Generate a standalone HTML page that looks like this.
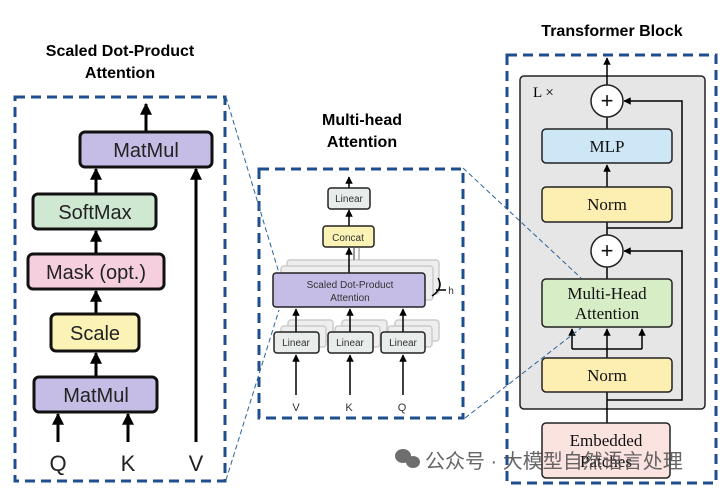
<!DOCTYPE html>
<html><head><meta charset="utf-8"><style>
html,body{margin:0;padding:0;background:#fff;}
svg{display:block;}
text{font-family:"Liberation Sans",sans-serif;}
.serif{font-family:"Liberation Serif",serif;}
</style></head><body>
<svg width="720" height="488" viewBox="0 0 720 488" xmlns="http://www.w3.org/2000/svg">
<defs>
<marker id="a" viewBox="0 0 10 10" refX="9" refY="5" markerWidth="4" markerHeight="4" orient="auto"><path d="M0,0L10,5L0,10z" fill="#000"/></marker>
<marker id="s" viewBox="0 0 10 10" refX="9" refY="5" markerWidth="5" markerHeight="5" orient="auto"><path d="M0,0L10,5L0,10z" fill="#000"/></marker>
</defs>

<!-- LEFT -->
<text x="120" y="56" font-size="16" font-weight="bold" text-anchor="middle">Scaled Dot-Product</text>
<text x="120" y="78" font-size="16" font-weight="bold" text-anchor="middle">Attention</text>
<rect x="15" y="97" width="210" height="384" fill="none" stroke="#1f4e8c" stroke-width="3" stroke-dasharray="10,6"/>
<g stroke="#000" stroke-width="3" fill="none">
<line x1="146" y1="132" x2="146" y2="104" marker-end="url(#a)"/>
<line x1="96" y1="194" x2="96" y2="169" marker-end="url(#a)"/>
<line x1="96" y1="254" x2="96" y2="231" marker-end="url(#a)"/>
<line x1="96" y1="314" x2="96" y2="291" marker-end="url(#a)"/>
<line x1="96" y1="377" x2="96" y2="353" marker-end="url(#a)"/>
<line x1="58" y1="442" x2="58" y2="414" marker-end="url(#a)"/>
<line x1="128" y1="442" x2="128" y2="414" marker-end="url(#a)"/>
<line x1="196" y1="442" x2="196" y2="169" marker-end="url(#a)"/>
</g>
<g stroke="#111" stroke-width="3">
<rect x="80" y="132" width="132" height="35" rx="5" fill="#c6bde6"/>
<rect x="33" y="194" width="123" height="35" rx="5" fill="#cfe8d2"/>
<rect x="28" y="254" width="136" height="35" rx="5" fill="#f6cfdf"/>
<rect x="51" y="314" width="88" height="37" rx="5" fill="#fbf3b5"/>
<rect x="34" y="377" width="123" height="35" rx="5" fill="#c6bde6"/>
</g>
<g font-size="20" fill="#222" text-anchor="middle">
<text x="146" y="157">MatMul</text>
<text x="95" y="219">SoftMax</text>
<text x="96" y="279">Mask (opt.)</text>
<text x="95" y="340">Scale</text>
<text x="96" y="402">MatMul</text>
<text x="58" y="471" font-size="22">Q</text>
<text x="128" y="471" font-size="22">K</text>
<text x="196" y="471" font-size="22">V</text>
</g>

<!-- MIDDLE -->
<text x="362" y="125" font-size="16" font-weight="bold" text-anchor="middle">Multi-head</text>
<text x="362" y="147" font-size="16" font-weight="bold" text-anchor="middle">Attention</text>
<rect x="259" y="169" width="204" height="249" fill="none" stroke="#1f4e8c" stroke-width="3" stroke-dasharray="10,6"/>
<g fill="#eeeeee" stroke="#ccc" stroke-width="1.5">
<rect x="287" y="260" width="152" height="34" rx="3"/>
<rect x="281" y="266" width="152" height="34" rx="3"/>
<rect x="288" y="320" width="45" height="21" rx="3"/><rect x="342" y="320" width="45" height="21" rx="3"/><rect x="395" y="320" width="44" height="21" rx="3"/>
<rect x="281" y="326" width="45" height="21" rx="3"/><rect x="335" y="326" width="45" height="21" rx="3"/><rect x="388" y="326" width="44" height="21" rx="3"/>
</g>
<g stroke="#000" stroke-width="1.5" fill="none">
<line x1="349" y1="188" x2="349" y2="177" marker-end="url(#s)"/>
<line x1="349" y1="226" x2="349" y2="210" marker-end="url(#s)"/>
<line x1="349" y1="273" x2="349" y2="248" marker-end="url(#s)"/>
<line x1="354" y1="260" x2="354" y2="248" stroke="#777"/>
<line x1="359" y1="260" x2="359" y2="248" stroke="#aaa"/>
<line x1="296" y1="332" x2="296" y2="309" marker-end="url(#s)"/>
<line x1="350" y1="332" x2="350" y2="309" marker-end="url(#s)"/>
<line x1="403" y1="332" x2="403" y2="309" marker-end="url(#s)"/>
<line x1="296" y1="395" x2="296" y2="355" marker-end="url(#s)"/>
<line x1="350" y1="395" x2="350" y2="355" marker-end="url(#s)"/>
<line x1="403" y1="395" x2="403" y2="355" marker-end="url(#s)"/>
<path d="M438,278 Q444,288 432,296 M436,290 L446,290"/>
</g>
<g stroke="#222" stroke-width="1.5">
<rect x="328" y="188" width="42" height="21" rx="3" fill="#e8eceb"/>
<rect x="323" y="226" width="51" height="21" rx="3" fill="#fbf3b5"/>
<rect x="273" y="273" width="152" height="34" rx="3" fill="#c6bde6"/>
<rect x="274" y="332" width="45" height="21" rx="3" fill="#e8eceb"/>
<rect x="328" y="332" width="45" height="21" rx="3" fill="#e8eceb"/>
<rect x="381" y="332" width="44" height="21" rx="3" fill="#e8eceb"/>
</g>
<g font-size="10" fill="#333" text-anchor="middle">
<text x="349" y="202">Linear</text>
<text x="348" y="241">Concat</text>
<text x="350" y="288">Scaled Dot-Product</text>
<text x="350" y="301">Attention</text>
<text x="296" y="346">Linear</text>
<text x="350" y="346">Linear</text>
<text x="403" y="346">Linear</text>
<text x="451" y="294">h</text>
<text x="296" y="411" font-size="11">V</text>
<text x="349" y="411" font-size="11">K</text>
<text x="402" y="411" font-size="11">Q</text>
</g>

<!-- RIGHT -->
<text x="612" y="36" font-size="16" font-weight="bold" text-anchor="middle">Transformer Block</text>
<rect x="507" y="55" width="209" height="428" fill="none" stroke="#1f4e8c" stroke-width="3" stroke-dasharray="10,6"/>
<rect x="520" y="76" width="185" height="333" rx="4" fill="#e6e6e6" stroke="#222" stroke-width="1.5"/>
<text x="533" y="97" class="serif" font-size="15">L ×</text>
<g stroke="#000" stroke-width="1.5" fill="none">
<line x1="607" y1="85" x2="607" y2="58" marker-end="url(#s)"/>
<line x1="607" y1="129" x2="607" y2="117"/>
<line x1="607" y1="187" x2="607" y2="165" marker-end="url(#s)"/>
<line x1="607" y1="235" x2="607" y2="222"/>
<line x1="607" y1="279" x2="607" y2="267"/>
<path d="M607,228 H682 V101 H624" marker-end="url(#s)"/>
<path d="M607,400 H682 V251 H624" marker-end="url(#s)"/>
<line x1="607" y1="423" x2="607" y2="392"/>
<line x1="607" y1="358" x2="607" y2="329" marker-end="url(#s)"/>
<path d="M572,349 H642"/>
<line x1="572" y1="349" x2="572" y2="329" marker-end="url(#s)"/>
<line x1="642" y1="349" x2="642" y2="329" marker-end="url(#s)"/>
</g>
<g stroke="#222" stroke-width="1.5">
<circle cx="607" cy="101" r="16" fill="#fff"/>
<circle cx="607" cy="251" r="16" fill="#fff"/>
<rect x="542" y="129" width="130" height="34" rx="4" fill="#cde7f6"/>
<rect x="542" y="187" width="130" height="35" rx="4" fill="#fdeeb2"/>
<rect x="542" y="279" width="130" height="48" rx="4" fill="#d6edc5"/>
<rect x="542" y="358" width="130" height="34" rx="4" fill="#fdeeb2"/>
<rect x="542" y="423" width="128" height="55" rx="4" fill="#fbe3df"/>
</g>
<g class="serif" font-size="17" fill="#111" text-anchor="middle">
<text x="607" y="108" font-size="22" font-family="Liberation Sans">+</text>
<text x="607" y="258" font-size="22" font-family="Liberation Sans">+</text>
<text x="607" y="152" class="serif">MLP</text>
<text x="607" y="210" class="serif">Norm</text>
<text x="607" y="299" class="serif">Multi-Head</text>
<text x="607" y="319" class="serif">Attention</text>
<text x="607" y="381" class="serif">Norm</text>
<text x="606" y="446" class="serif">Embedded</text>
<text x="606" y="467" class="serif">Patches</text>
</g>

<!-- connectors on top -->
<g stroke="#2a6496" stroke-width="1" stroke-dasharray="5,3" fill="none">
<line x1="226" y1="97" x2="279" y2="273"/>
<line x1="226" y1="480" x2="279" y2="310"/>
<line x1="463" y1="168" x2="581" y2="278"/>
<line x1="465" y1="418" x2="581" y2="328"/>
</g>

<!-- watermark -->
<g fill="#555" opacity="0.85">
<ellipse cx="403" cy="456" rx="8" ry="7"/>
<ellipse cx="413" cy="462" rx="7" ry="6"/>
</g>
<text x="425" y="468" font-size="20" fill="#555" opacity="0.9" font-family="'Liberation Sans','Noto Sans CJK SC',sans-serif">公众号 · 大模型自然语言处理</text>
</svg>
</body></html>
